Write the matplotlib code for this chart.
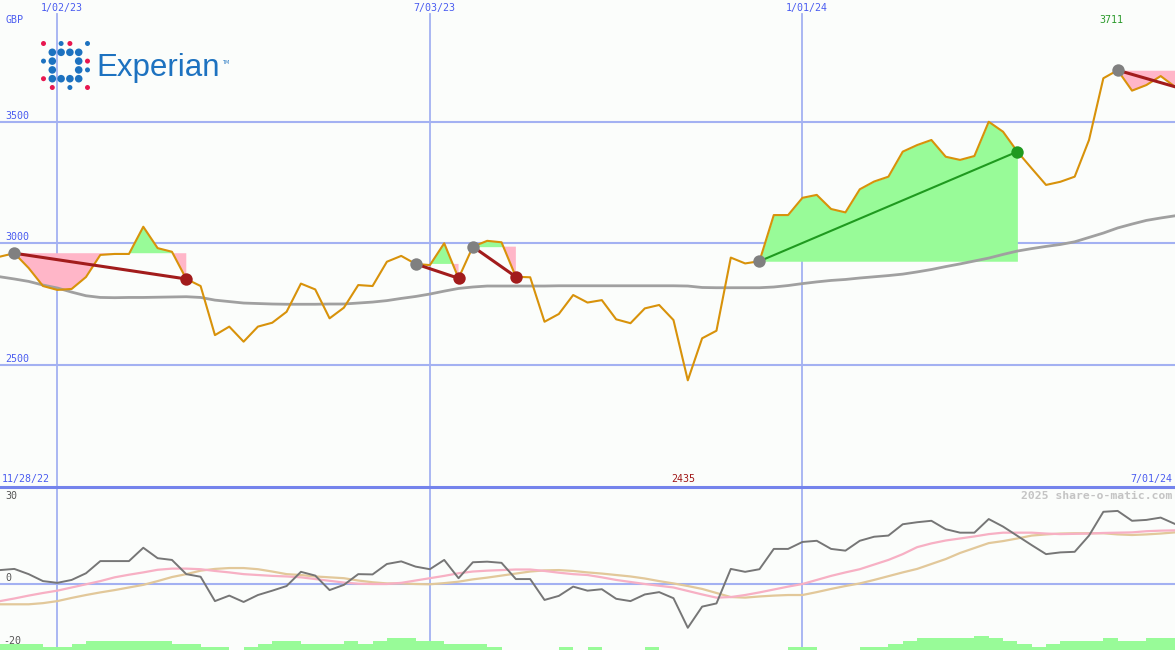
import numpy as np
import matplotlib
matplotlib.use("Agg")
import matplotlib.pyplot as plt
from matplotlib.lines import Line2D
from matplotlib.patches import Ellipse

W, H = 1175, 650
SPLIT = 487  # pixel row where the price panel ends

# weekly closes, Experian (GBp), first week 11/28/22
price = [2944, 2958, 2897, 2823, 2807, 2811, 2860, 2951, 2955, 2955,
         3067, 2979, 2964, 2852, 2823, 2621, 2656, 2594, 2656, 2672,
         2717, 2833, 2809, 2690, 2734, 2827, 2823, 2923, 2947, 2914,
         2909, 2999, 2855, 2985, 3009, 3003, 2861, 2859, 2676, 2708,
         2786, 2755, 2765, 2686, 2670, 2731, 2745, 2683, 2435, 2608,
         2639, 2940, 2916, 2925, 3115, 3115, 3186, 3198, 3140, 3126,
         3221, 3253, 3273, 3376, 3403, 3424, 3355, 3342, 3358, 3499,
         3458, 3376, 3307, 3239, 3252, 3273, 3424, 3678, 3711, 3627,
         3650, 3687, 3643]

# long moving average (grey)
ma = [2861, 2852, 2842, 2827, 2815, 2798, 2783, 2776, 2775, 2776,
      2776, 2777, 2778, 2779, 2776, 2765, 2759, 2753, 2751, 2749,
      2748, 2748, 2748, 2749, 2749, 2753, 2757, 2763, 2772, 2780,
      2790, 2802, 2813, 2819, 2823, 2823, 2823, 2823, 2823, 2824,
      2824, 2824, 2824, 2824, 2824, 2824, 2824, 2824, 2823, 2817,
      2816, 2816, 2816, 2816, 2819, 2825, 2833, 2840, 2846, 2850,
      2856, 2861, 2866, 2872, 2881, 2891, 2903, 2914, 2926, 2938,
      2953, 2967, 2977, 2986, 2994, 3005, 3023, 3041, 3062, 3078,
      3093, 3103, 3112]

# lower panel: momentum + its two smoothings
mom = [4.8, 5.2, 3.4, 1.0, 0.4, 1.4, 3.7, 7.9, 7.9, 7.9,
       12.5, 8.9, 8.3, 3.4, 2.5, -5.9, -4.0, -6.2, -3.8, -2.3,
       -0.7, 4.2, 2.9, -2.1, -0.3, 3.4, 3.3, 6.9, 7.8, 6.0,
       5.1, 8.3, 2.0, 7.5, 7.7, 7.3, 1.7, 1.7, -5.5, -4.1,
       -0.9, -2.3, -1.8, -5.1, -5.9, -3.6, -2.8, -4.9, -15.1, -7.8,
       -6.7, 5.2, 4.2, 5.1, 12.1, 12.1, 14.5, 14.9, 12.1, 11.5,
       14.9, 16.3, 16.7, 20.6, 21.3, 21.8, 18.9, 17.7, 17.7, 22.4,
       19.8, 16.6, 13.4, 10.3, 10.9, 11.1, 16.7, 24.9, 25.2, 21.8,
       22.1, 22.9, 20.7]
mom_fast = [-5.9, -5.0, -4.0, -3.1, -2.3, -1.2, -0.1, 1.0, 2.3, 3.2,
            4.0, 4.9, 5.3, 5.3, 5.1, 4.5, 4.0, 3.4, 3.1, 2.8,
            2.6, 2.3, 1.7, 1.1, 0.5, 0.1, 0.0, 0.0, 0.4, 1.2,
            2.0, 2.8, 3.7, 4.3, 4.6, 4.8, 5.0, 5.0, 4.5, 3.9,
            3.4, 3.1, 2.3, 1.4, 0.7, 0.0, -0.6, -1.2, -2.4, -3.6,
            -4.7, -4.5, -3.8, -2.9, -1.9, -0.9, 0.0, 1.4, 2.8, 4.0,
            5.1, 6.7, 8.3, 10.3, 12.7, 14.0, 15.0, 15.7, 16.4, 17.2,
            17.7, 17.7, 17.7, 17.4, 17.2, 17.3, 17.4, 17.6, 17.7, 17.8,
            18.2, 18.4, 18.5]
mom_slow = [-7.0, -7.0, -7.0, -6.6, -5.9, -4.8, -3.8, -2.9, -2.1, -1.2,
            -0.3, 1.0, 2.4, 3.4, 4.6, 5.2, 5.5, 5.5, 5.1, 4.3,
            3.4, 3.1, 2.6, 2.3, 2.0, 1.2, 0.6, 0.2, 0.2, 0.0,
            -0.1, 0.3, 0.8, 1.6, 2.2, 2.9, 3.6, 4.3, 4.7, 4.8,
            4.5, 4.0, 3.6, 3.1, 2.6, 1.9, 1.0, 0.2, -0.7, -1.7,
            -3.1, -4.5, -4.7, -4.3, -4.0, -3.8, -3.8, -2.8, -1.7, -0.7,
            0.2, 1.4, 2.7, 4.0, 5.2, 6.9, 8.6, 10.7, 12.4, 14.1,
            14.8, 15.7, 16.7, 17.1, 17.4, 17.5, 17.5, 17.5, 17.1, 16.9,
            17.1, 17.4, 17.8]

# relative weekly volume (coarse levels)
vol = [2, 2, 2, 1, 1, 2, 3, 3, 3, 3,
       3, 3, 2, 2, 1, 1, 0, 1, 2, 3,
       3, 2, 2, 2, 3, 2, 3, 4, 4, 3,
       3, 2, 2, 2, 1, 0, 0, 0, 0, 1,
       0, 1, 0, 0, 0, 1, 0, 0, 0, 0,
       0, 0, 0, 0, 0, 1, 1, 0, 0, 0,
       1, 1, 2, 3, 4, 4, 4, 4, 5, 4,
       3, 2, 1, 2, 3, 3, 3, 4, 3, 3,
       4, 4, 4]

# trade signals: entry week, exit week (last one still open)
sig_start = [1, 29, 33, 53, 78]
sig_end = [13, 32, 36, 71, 82]
sig_closed = [True, True, True, True, False]

date_idx = [4, 30, 56]
date_labels = ["1/02/23", "7/03/23", "1/01/24"]
price_grid = [2500, 3000, 3500]
first_date, last_date = "11/28/22", "7/01/24"

BG = "#fbfdfb"
GRID = "#a3b1f2"
BLUE_TXT = "#4a5cf0"
ORANGE = "#d8920a"
PINK = "#ffb6c8"
LGREEN = "#98fb98"
DARKRED = "#a21c1c"
DGREEN = "#1f9a1f"

x = np.arange(len(price))
p = np.array(price, dtype=float)

fig = plt.figure(figsize=(W / 100, H / 100), dpi=100)
fig.patch.set_facecolor(BG)
ax = fig.add_axes([0, (H - SPLIT) / H, 1, SPLIT / H])
axb = fig.add_axes([0, 0, 1, (H - SPLIT) / H])
for a in (ax, axb):
    a.set_xlim(0, 82)
    a.axis("off")
ax.set_ylim(1996, 4000)
axb.set_ylim(-22.76, 33.45)

# grid
for g in price_grid:
    ax.axhline(g, color=GRID, lw=1.5, zorder=1)
axb.axhline(0, color=GRID, lw=1.5, zorder=1)
for d in date_idx:
    ax.axvline(d, ymax=(SPLIT - 14) / SPLIT, color=GRID, lw=1.3, zorder=1)
    axb.axvline(d, color=GRID, lw=1.3, zorder=1)
fig.add_artist(Line2D([0, 1], [(H - SPLIT) / H] * 2, transform=fig.transFigure,
                      color="#7483ec", lw=2.2, zorder=5))

# signal fills + lines
for s, e, closed in zip(sig_start, sig_end, sig_closed):
    xs = x[s:e + 1]
    ys = p[s:e + 1]
    lvl = p[s]
    ax.fill_between(xs, ys, lvl, where=ys >= lvl, interpolate=True,
                    color=LGREEN, lw=0, zorder=2)
    ax.fill_between(xs, ys, lvl, where=ys <= lvl, interpolate=True,
                    color=PINK, lw=0, zorder=2)

ax.plot(x, ma, color="#a0a0a0", lw=2.0, zorder=3)
ax.plot(x, p, color=ORANGE, lw=1.5, zorder=4)

for s, e, closed in zip(sig_start, sig_end, sig_closed):
    win = p[e] > p[s]
    ax.plot([s, e], [p[s], p[e]], color=DGREEN if win else DARKRED,
            lw=1.5 if win else 2.2, zorder=5)
    ax.scatter([s], [p[s]], s=80, color="#808080", zorder=6, lw=0)
    if closed:
        ax.scatter([e], [p[e]], s=80, color=DGREEN if win else DARKRED,
                   zorder=6, lw=0)

# lower panel
axb.bar(x, vol, width=1.0, align="edge", bottom=-22.76, color=LGREEN, lw=0, zorder=1)
axb.plot(x, mom_slow, color="#e2c89a", lw=1.6, zorder=2)
axb.plot(x, mom_fast, color="#f7b0c4", lw=1.6, zorder=3)
axb.plot(x, mom, color="#767676", lw=1.4, zorder=4)

# text labels (pixel positions)
mono = dict(family="DejaVu Sans Mono", fontsize=7.2, va="center")


def ptext(px, py, s, **kw):
    opts = dict(mono)
    opts.update(kw)
    fig.text(px / W, 1 - py / H, s, **opts)


ptext(5, 20, "GBP", color=BLUE_TXT)
for d, lab in zip(date_idx, date_labels):
    ptext(d * W / 82 + 4, 8, lab, color=BLUE_TXT, ha="center")
for g in price_grid:
    ptext(5, SPLIT * (4000 - g) / (4000 - 1996) - 6, str(g), color=BLUE_TXT)
i_hi = int(np.argmax(p))
i_lo = int(np.argmin(p))
ptext(i_hi * W / 82 - 6, 20, str(price[i_hi]), color="#2a9a2a", ha="center")
ptext(i_lo * W / 82 - 5, 479, str(price[i_lo]), color="#a01818", ha="center")
ptext(2, 479, first_date, color=BLUE_TXT)
ptext(1172, 479, last_date, color=BLUE_TXT, ha="right")
ptext(1172, 496, "2025 share-o-matic.com", color="#c4c4c4", ha="right",
      fontsize=8.2, fontweight="bold")
ptext(5, 496, "30", color="#555555")
ptext(5, 578, "0", color="#555555")
ptext(3, 641, "-20", color="#555555")

# Experian logo
logo_blue = "#1d72c0"
logo_red = "#e8174f"
small = [(0, 0, "r"), (2, 0, "b"), (3, 0, "r"), (5, 0, "b"),
         (0, 2, "b"), (5, 2, "r"), (5, 3, "b"),
         (0, 4, "r"), (1, 5, "r"), (3, 5, "b"), (5, 5, "r")]
big = [(1, 1), (2, 1), (3, 1), (4, 1), (1, 2), (4, 2), (1, 3), (4, 3),
       (1, 4), (2, 4), (3, 4), (4, 4)]


def logo_dot(c, r, d, col):
    cx, cy = 43.5 + 8.8 * c, 43.5 + 8.8 * r
    fig.add_artist(Ellipse((cx / W, 1 - cy / H), d / W, d / H,
                           transform=fig.transFigure, color=col, lw=0))


for c, r, k in small:
    logo_dot(c, r, 5.0, logo_red if k == "r" else logo_blue)
for c, r in big:
    logo_dot(c, r, 7.6, logo_blue)
fig.text(96 / W, 1 - 68 / H, "Experian", family="Liberation Sans", fontsize=22.5,
         color=logo_blue, va="center")
fig.text(222 / W, 1 - 62 / H, "TM", family="DejaVu Sans", fontsize=3.5,
         color=logo_blue, va="center")

fig.savefig("out.png", dpi=100, facecolor=BG)
